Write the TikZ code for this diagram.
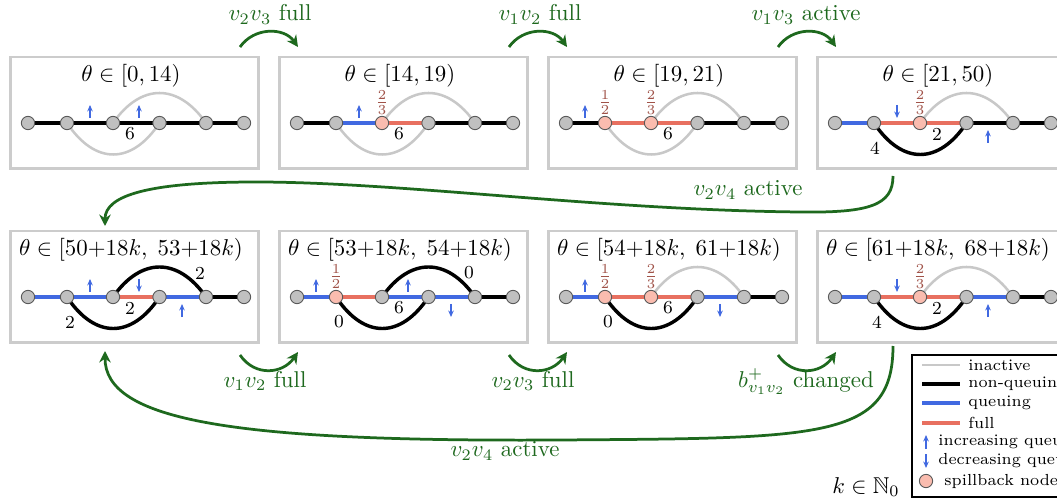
\documentclass[tikz,border=0pt]{standalone}
\usepackage{amssymb}
\usetikzlibrary{arrows.meta}
\definecolor{inact}{RGB}{200,200,200}
\definecolor{qblue}{RGB}{65,105,225}
\definecolor{fullred}{RGB}{232,112,96}
\definecolor{spill}{RGB}{250,188,175}
\definecolor{fraccol}{RGB}{160,82,72}
\definecolor{tgreen}{RGB}{30,105,30}
\definecolor{boxgray}{RGB}{204,204,204}
\definecolor{vgray}{RGB}{192,192,192}
\pgfdeclarelayer{bglayer}
\pgfdeclarelayer{edgelayer}
\pgfsetlayers{bglayer,edgelayer,main}
\tikzset{
 panelbox/.style={draw=boxgray, line width=1.3pt, minimum width=108.7pt, minimum height=48.9pt, inner sep=0pt},
 vtx/.style={circle, draw=black!65, fill=vgray, line width=0.4pt, minimum size=5.8pt, inner sep=0pt},
 spillv/.style={vtx, fill=spill},
 inE/.style={draw=inact, line width=1.1pt},
 kE/.style={draw=black, line width=1.5pt},
 bE/.style={draw=qblue, line width=1.5pt},
 rE/.style={draw=fullred, line width=1.5pt},
 qarr/.style={draw=qblue, line width=0.5pt, -{Stealth[length=2.8pt,width=2.4pt]}},
 elab/.style={font=\footnotesize, inner sep=0pt},
 fraclab/.style={font=\footnotesize, text=fraccol, inner sep=0.5pt, anchor=south},
 trans/.style={draw=tgreen, line width=1.2pt, -{Stealth[length=5pt,width=5pt]}},
 tlab/.style={text=tgreen, inner sep=0pt},
 ptitle/.style={inner sep=0pt},
 legt/.style={font=\scriptsize, anchor=west, inner sep=0pt},
}
\newcommand\mkpanel[6]{%
 \node[panelbox] (#1box) at (#2+124.5,#3+56) {};
 \node[ptitle] (#1t) at (#2+121,#3+19) {#4};
 \node[vtx] (#1a) at (#2+18,#3+66) {};
 \node[#5] (#1b) at (#2+57,#3+66) {};
 \node[#6] (#1c) at (#2+103,#3+66) {};
 \node[vtx] (#1d) at (#2+149.5,#3+66) {};
 \node[vtx] (#1e) at (#2+196,#3+66) {};
 \node[vtx] (#1f) at (#2+234,#3+66) {};
}
\newcommand\mkedges[8]{%
 \begin{pgfonlayer}{edgelayer}
 \draw[#2] (#1a.center) -- (#1b.center);
 \draw[#3] (#1b.center) -- (#1c.center);
 \draw[#4] (#1c.center) -- (#1d.center);
 \draw[#5] (#1d.center) -- (#1e.center);
 \draw[#6] (#1e.center) -- (#1f.center);
 \draw[#7] (#1c.center) .. controls +(28,-40) and +(-28,-40) .. (#1e.center);
 \draw[#8] (#1b.center) .. controls +(28,42) and +(-28,42) .. (#1d.center);
 \end{pgfonlayer}
}
\newcommand\qU[2]{\draw[qarr] (#1,#2) -- (#1,#2-13);}
\newcommand\qD[2]{\draw[qarr] (#1,#2) -- (#1,#2+13);}
\begin{document}
\begin{tikzpicture}[x=0.4367pt,y=-0.4367pt]
\useasboundingbox (0,0) rectangle (1057,501);
\clip (0,0) rectangle (1057,501);
\begin{pgfonlayer}{bglayer}
\fill[white] (0,0) rectangle (1057,501);
\end{pgfonlayer}

% ---------- top row ----------
\mkpanel{p1}{10}{57}{$\theta\in[0,14)$}{vtx}{vtx}
\mkedges{p1}{kE}{kE}{kE}{kE}{kE}{inE}{inE}
\node[elab] (p1m) at (130,134) {6};
\qU{90}{118}\qU{139}{118}

\mkpanel{p2}{279}{57}{$\theta\in[14,19)$}{vtx}{spillv}
\mkedges{p2}{kE}{bE}{rE}{kE}{kE}{inE}{inE}
\node[elab] (p2m) at (399,134) {6};
\node[fraclab] (p2fc) at (p2c.north) {$\frac{2}{3}$};
\qU{359}{118}

\mkpanel{p3}{548}{57}{$\theta\in[19,21)$}{spillv}{spillv}
\mkedges{p3}{kE}{rE}{rE}{kE}{kE}{inE}{inE}
\node[elab] (p3m) at (668,134) {6};
\node[fraclab] (p3fb) at (p3b.north) {$\frac{1}{2}$};
\node[fraclab] (p3fc) at (p3c.north) {$\frac{2}{3}$};
\qU{585}{118}

\mkpanel{p4}{817}{57}{$\theta\in[21,50)$}{vtx}{spillv}
\mkedges{p4}{bE}{rE}{rE}{kE}{kE}{inE}{kE}
\node[elab] (p4m) at (937,134) {2};
\node[elab] (p4l) at (875,148) {4};
\node[fraclab] (p4fc) at (p4c.north) {$\frac{2}{3}$};
\qD{897}{105}\qU{988}{143}

% ---------- bottom row ----------
\mkpanel{p5}{10}{231}{$\theta\in[50{+}18k,\;53{+}18k)$}{vtx}{vtx}
\mkedges{p5}{bE}{bE}{rE}{bE}{kE}{kE}{kE}
\node[elab] (p5m) at (130,308) {2};
\node[elab] (p5l) at (70,322) {2};
\node[elab] (p5u) at (200,273) {2};
\qU{90}{292}\qD{139}{279}\qU{182}{317}

\mkpanel{p6}{279}{231}{$\theta\in[53{+}18k,\;54{+}18k)$}{spillv}{vtx}
\mkedges{p6}{bE}{rE}{bE}{bE}{kE}{kE}{kE}
\node[elab] (p6m) at (399,308) {6};
\node[elab] (p6l) at (339,322) {0};
\node[elab] (p6u) at (469,273) {0};
\node[fraclab] (p6fb) at (p6b.north) {$\frac{1}{2}$};
\qU{316}{292}\qU{408}{292}\qD{451}{304}

\mkpanel{p7}{548}{231}{$\theta\in[54{+}18k,\;61{+}18k)$}{spillv}{spillv}
\mkedges{p7}{bE}{rE}{rE}{bE}{kE}{inE}{kE}
\node[elab] (p7m) at (668,308) {6};
\node[elab] (p7l) at (608,322) {0};
\node[fraclab] (p7fb) at (p7b.north) {$\frac{1}{2}$};
\node[fraclab] (p7fc) at (p7c.north) {$\frac{2}{3}$};
\qU{585}{292}\qD{720}{304}

\mkpanel{p8}{817}{231}{$\theta\in[61{+}18k,\;68{+}18k)$}{vtx}{spillv}
\mkedges{p8}{bE}{rE}{rE}{bE}{kE}{inE}{kE}
\node[elab] (p8m) at (937,308) {2};
\node[elab] (p8l) at (877,322) {4};
\node[fraclab] (p8fc) at (p8c.north) {$\frac{2}{3}$};
\qD{897}{279}\qU{988}{317}

% ---------- transitions ----------
\coordinate (ta1) at (240,47); \coordinate (tb1) at (298,47);
\coordinate (ta2) at (509,47); \coordinate (tb2) at (567,47);
\coordinate (ta3) at (778,47); \coordinate (tb3) at (836,47);
\draw[trans] (ta1) .. controls +(14,-20) and +(-14,-20) .. (tb1);
\draw[trans] (ta2) .. controls +(14,-20) and +(-14,-20) .. (tb2);
\draw[trans] (ta3) .. controls +(14,-20) and +(-14,-20) .. (tb3);
\node[tlab,anchor=base] (tl1) at (270,21) {$v_2v_3$ full};
\node[tlab,anchor=base] (tl2) at (540,21) {$v_1v_2$ full};
\node[tlab,anchor=base] (tl3) at (806,21) {$v_1v_3$ active};

\coordinate (ba1) at (240,355); \coordinate (bb1) at (298,352);
\coordinate (ba2) at (509,355); \coordinate (bb2) at (567,352);
\coordinate (ba3) at (778,355); \coordinate (bb3) at (836,352);
\draw[trans] (ba1) .. controls +(15,22) and +(-15,22) .. (bb1);
\draw[trans] (ba2) .. controls +(15,22) and +(-15,22) .. (bb2);
\draw[trans] (ba3) .. controls +(15,22) and +(-15,22) .. (bb3);
\node[tlab,anchor=base] (bl1) at (265,387) {$v_1v_2$ full};
\node[tlab,anchor=base] (bl2) at (533,387) {$v_2v_3$ full};
\node[tlab,anchor=base] (bl3) at (806,387) {$b^+_{v_1v_2}$ changed};

\coordinate (ms) at (893,176);
\coordinate (me) at (105,226);
\draw[trans] (ms) .. controls (893,205) and (870,213) .. (800,212)
   .. controls (600,210) and (400,182) .. (256,182)
   .. controls (150,182) and (105,195) .. (me);
\node[tlab] (ml) at (748,190) {$v_2v_4$ active};

\coordinate (ls) at (893,346);
\coordinate (le) at (105,351);
\draw[trans] (ls) .. controls (893,440) and (820,438) .. (560,440)
   .. controls (230,442) and (105,420) .. (le);
\node[tlab] (ll) at (505,451) {$v_2v_4$ active};

% ---------- legend ----------
\draw[black, line width=0.5pt] (912,355) rectangle (1130,497);
\draw[inE] (922,365) -- (960,365); \node[legt] (lg1) at (968,365) {inactive};
\draw[kE] (922,384) -- (960,384); \node[legt] (lg2) at (968,384) {non-queuing};
\draw[bE] (922,403) -- (960,403); \node[legt] (lg3) at (968,403) {queuing};
\draw[rE] (922,423) -- (960,423); \node[legt] (lg4) at (968,423) {full};
\draw[qarr] (926,449) -- (926,435); \node[legt] (lg5) at (938,442) {increasing queue};
\draw[qarr] (926,454) -- (926,468); \node[legt] (lg6) at (938,461) {decreasing queue};
\node[spillv] (lgs) at (926,481) {}; \node[legt] (lg7) at (944,481) {spillback node};

\node (kn) at (866,487) {$k\in\mathbb{N}_0$};
\end{tikzpicture}
\end{document}
